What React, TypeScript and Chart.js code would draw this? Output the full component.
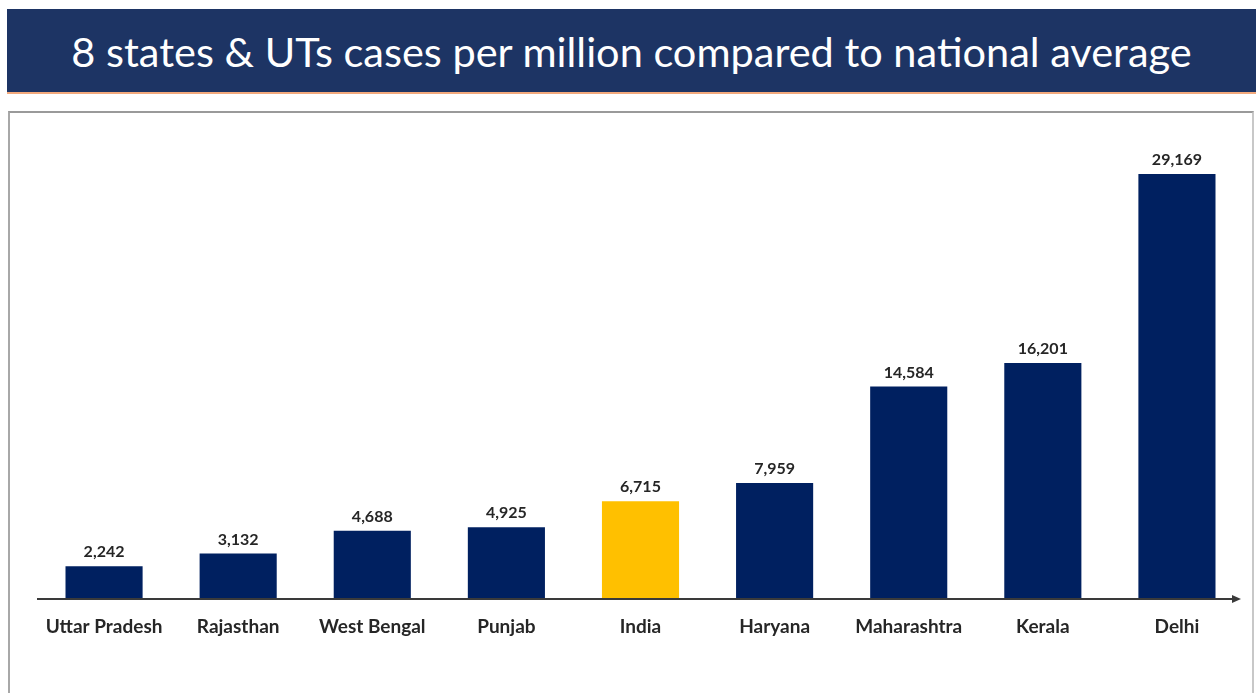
import React, { useEffect, useRef } from "react";
import { Chart, registerables } from "chart.js";

Chart.register(...registerables);

const TITLE = "8 states & UTs cases per million compared to national average";
const categories = [
  "Uttar Pradesh",
  "Rajasthan",
  "West Bengal",
  "Punjab",
  "India",
  "Haryana",
  "Maharashtra",
  "Kerala",
  "Delhi",
];
const casesPerMillion = [2242, 3132, 4688, 4925, 6715, 7959, 14584, 16201, 29169];
const highlightCategory = "India";

const NAVY = "#002060";
const GOLD = "#FFC000";
const TEXT = "#262626";
const FONT = "Lato, 'Open Sans', sans-serif";

const valueLabels = {
  id: "valueLabels",
  afterDatasetsDraw(chart: any) {
    const { ctx } = chart;
    const meta = chart.getDatasetMeta(0);
    ctx.save();
    ctx.fillStyle = TEXT;
    ctx.font = `bold 16px ${FONT}`;
    ctx.textAlign = "center";
    ctx.textBaseline = "bottom";
    meta.data.forEach((bar: any, i: number) => {
      const v = chart.data.datasets[0].data[i] as number;
      ctx.fillText(v.toLocaleString("en-US"), bar.x, bar.y - 6);
    });
    ctx.restore();
  },
};

const axisArrow = {
  id: "axisArrow",
  afterDatasetsDraw(chart: any) {
    const { ctx, chartArea } = chart;
    const y = chart.scales.y.getPixelForValue(0);
    const x0 = chartArea.left;
    const x1 = chartArea.right - 3;
    ctx.save();
    ctx.strokeStyle = "#3a3a3a";
    ctx.fillStyle = "#3a3a3a";
    ctx.lineWidth = 2;
    ctx.beginPath();
    ctx.moveTo(x0, y);
    ctx.lineTo(x1 - 6, y);
    ctx.stroke();
    ctx.beginPath();
    ctx.moveTo(x1, y);
    ctx.lineTo(x1 - 9, y - 4);
    ctx.lineTo(x1 - 9, y + 4);
    ctx.closePath();
    ctx.fill();
    ctx.restore();
  },
};

export default function App() {
  const ref = useRef<HTMLCanvasElement | null>(null);

  useEffect(() => {
    if (!ref.current) return;
    const chart = new Chart(ref.current, {
      type: "bar",
      data: {
        labels: categories,
        datasets: [
          {
            data: casesPerMillion,
            backgroundColor: categories.map((c) => (c === highlightCategory ? GOLD : NAVY)),
            borderWidth: 0,
            categoryPercentage: 1,
            barPercentage: 0.575,
          },
        ],
      },
      options: {
        animation: false,
        responsive: false,
        maintainAspectRatio: false,
        layout: { padding: { left: 37, right: 12, top: 162, bottom: 0 } },
        plugins: {
          legend: { display: false },
          tooltip: { enabled: false },
          title: { display: false },
        },
        scales: {
          x: {
            grid: { display: false, drawTicks: false },
            border: { display: false },
            ticks: {
              color: TEXT,
              font: { family: FONT, size: 19, weight: "bold" },
              padding: 16,
              maxRotation: 0,
              autoSkip: false,
            },
            afterFit: (scale: any) => {
              scale.height = 94;
            },
          },
          y: {
            display: false,
            min: 0,
            max: 30000,
          },
        },
      },
      plugins: [valueLabels, axisArrow],
    });
    return () => chart.destroy();
  }, []);

  return (
    <div
      style={{
        position: "fixed",
        left: 0,
        top: 0,
        width: 1256,
        height: 693,
        background: "#ffffff",
        overflow: "hidden",
      }}
    >
      <div
        style={{
          position: "absolute",
          left: 7,
          top: 9,
          width: 1249,
          height: 83,
          background: "#1d3464",
          color: "#ffffff",
          fontFamily: FONT,
          fontSize: 41.5,
          display: "flex",
          alignItems: "center",
          justifyContent: "center",
          boxSizing: "border-box",
          whiteSpace: "nowrap",
        }}
      >
        {TITLE}
      </div>
      <div
        style={{
          position: "absolute",
          left: 7,
          top: 92,
          width: 1249,
          height: 2,
          background: "#f2a97c",
        }}
      />
      <div
        style={{
          position: "absolute",
          left: 8,
          top: 111,
          width: 1246,
          height: 620,
          borderTop: "2px solid #9a9a9a",
          borderLeft: "2px solid #a8a8a8",
          borderRight: "2px solid #c8c8c8",
          boxSizing: "border-box",
        }}
      />
      <canvas
        ref={ref}
        width={1256}
        height={693}
        style={{ position: "absolute", left: 0, top: 0, width: 1256, height: 693 }}
      />
    </div>
  );
}
